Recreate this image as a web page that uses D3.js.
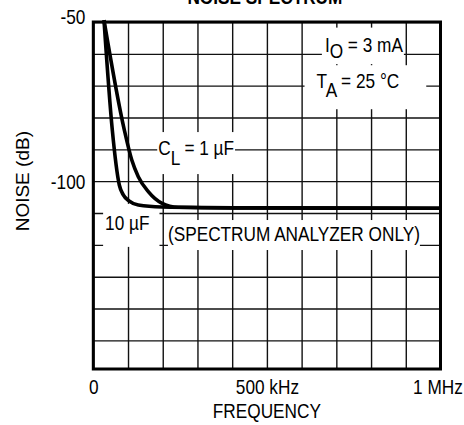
<!DOCTYPE html>
<html>
<head>
<meta charset="utf-8">
<script src="https://cdnjs.cloudflare.com/ajax/libs/d3/7.8.5/d3.min.js"></script>
<style>
	body { margin: 0; background: #fff; }
	svg text { font-family: 'Liberation Sans', Arial, sans-serif; font-size: 21px; fill: #000; }
	.ylabel { font-size: 19px; }
	.title { font-weight: bold; }
</style>
</head>
<body>
<div id="chart"></div>
<script>
let WIDTH = 464;
let HEIGHT = 425;
let NARROW = 0.82;
let margin = {top: 22, right: 23.5, bottom: 56, left: 93.3};

// frequency in kHz, noise in dB
let cap10uF = [
	[30.8, -49.4], [54.7, -83.9], [74.9, -101.2], [86.4, -104.3], [102.8, -106.2],
	[129.6, -107.5], [197, -108.1], [451, -108.4], [1000, -108.5]
];
let cap1uF = [
	[30.8, -49.4], [89.3, -83.9], [110.6, -93.3], [129.6, -98.6], [158.4, -103.3],
	[197, -106.9], [244, -108.2], [451, -108.4], [1000, -108.5]
];
let xTicks = [0, 500, 1000];
let xTickLabels = ['0', '500 kHz', '1 MHz'];
let yTicks = [-50, -100];
let xGrid = d3.range(0, 1001, 100);
let yGrid = d3.range(-50, -151, -10);

let w = WIDTH - margin.left - margin.right;
let h = HEIGHT - margin.top - margin.bottom;

// no narrow font installed, squeeze the regular one
let narrow = (sel) => {
	sel.each(function () {
		let len = this.getComputedTextLength();
		d3.select(this)
			.attr('textLength', len * NARROW)
			.attr('lengthAdjust', 'spacingAndGlyphs');
	});
};

let svg = d3.select('#chart').append('svg')
	.attr('width', WIDTH)
	.attr('height', HEIGHT);

let g = svg.append('g')
	.attr('transform', `translate(${margin.left},${margin.top})`);

let x = d3.scaleLinear().domain([0, 1000]).range([0, w]);
let y = d3.scaleLinear().domain([-50, -159]).range([0, h]);

// grid
let gridStyle = (sel) => {
	sel.select('.domain').remove();
	sel.selectAll('line').attr('stroke', '#111').attr('stroke-width', 1.4);
};
g.append('g')
	.attr('transform', `translate(0,${h})`)
	.call(d3.axisBottom(x).tickValues(xGrid).tickSize(-h).tickFormat(''))
	.call(gridStyle);
g.append('g')
	.call(d3.axisLeft(y).tickValues(yGrid).tickSize(-w).tickFormat(''))
	.call(gridStyle);

// annotations with white boxes, anchored in data units
let notes = [
	{at: [667, -59.3], parts: [['I', 0], ['O', 6.5], [' = 3 mA', 0]], pad: [3, 1, 5, 2]},
	{at: [643, -70.8], parts: [['T', 0], ['A', 9], [' = 25 °C', 0]], pad: [12, 27, 4, 8]},
	{at: [187, -91.8], parts: [['C', 0], ['L', 10], [' = 1 µF', 0]], pad: [1, 1, 4, 5]},
	{at: [34, -115.3], parts: [['10 µF', 0]], pad: [2, 10, 7, 13]},
	{at: [215, -118.8], parts: [['(SPECTRUM ANALYZER ONLY)', 0]], pad: [0, 0, 2, 5]}
];
let noteG = g.append('g');
notes.forEach((n) => {
	let ng = noteG.append('g');
	let rect = ng.append('rect').attr('fill', '#fff');
	let text = ng.append('text')
		.attr('x', x(n.at[0]))
		.attr('y', y(n.at[1]));
	let shift = 0;
	n.parts.forEach((p) => {
		text.append('tspan')
			.attr('dy', p[1] - shift)
			.text(p[0]);
		shift = p[1];
	});
	text.call(narrow);
	let bb = text.node().getBBox();
	rect.attr('x', bb.x - n.pad[0])
		.attr('y', bb.y - n.pad[2])
		.attr('width', bb.width + n.pad[0] + n.pad[1])
		.attr('height', bb.height + n.pad[2] + n.pad[3]);
});

// curves
let line = d3.line()
	.x((d) => x(d[0]))
	.y((d) => y(d[1]))
	.curve(d3.curveMonotoneX);
[cap10uF, cap1uF].forEach((s) => {
	g.append('path')
		.datum(s)
		.attr('fill', 'none')
		.attr('stroke', '#000')
		.attr('stroke-width', 3.6)
		.attr('stroke-linejoin', 'round')
		.attr('d', line);
});

// frame
g.append('rect')
	.attr('width', w)
	.attr('height', h)
	.attr('fill', 'none')
	.attr('stroke', '#000')
	.attr('stroke-width', 3);

// axes labels
let xAxis = g.append('g')
	.attr('transform', `translate(0,${h})`)
	.call(d3.axisBottom(x).tickValues(xTicks).tickSize(0).tickPadding(10)
		.tickFormat((d, i) => xTickLabels[i]));
xAxis.select('.domain').remove();
xAxis.selectAll('text').attr('font-size', null).attr('font-family', null)
	.attr('dx', (d) => d === 1000 ? -3 : 0)
	.call(narrow);

let yAxis = g.append('g')
	.call(d3.axisLeft(y).tickValues(yTicks).tickSize(0).tickPadding(8)
		.tickFormat((d) => String(d)));
yAxis.select('.domain').remove();
yAxis.selectAll('text').attr('font-size', null).attr('font-family', null)
	.attr('dy', (d) => d === -50 ? '0.06em' : '0.34em')
	.call(narrow);

svg.append('text')
	.attr('class', 'title')
	.attr('x', margin.left + w / 2 - 2)
	.attr('y', 4.3)
	.attr('text-anchor', 'middle')
	.text('NOISE SPECTRUM')
	.call(narrow);

g.append('text')
	.attr('x', x(500))
	.attr('y', h + 49)
	.attr('text-anchor', 'middle')
	.text('FREQUENCY')
	.call(narrow);

g.append('text')
	.attr('class', 'ylabel')
	.attr('transform', `translate(${28.5 - margin.left},${y(-100)}) rotate(-90)`)
	.attr('text-anchor', 'middle')
	.text('NOISE (dB)');
</script>
</body>
</html>
